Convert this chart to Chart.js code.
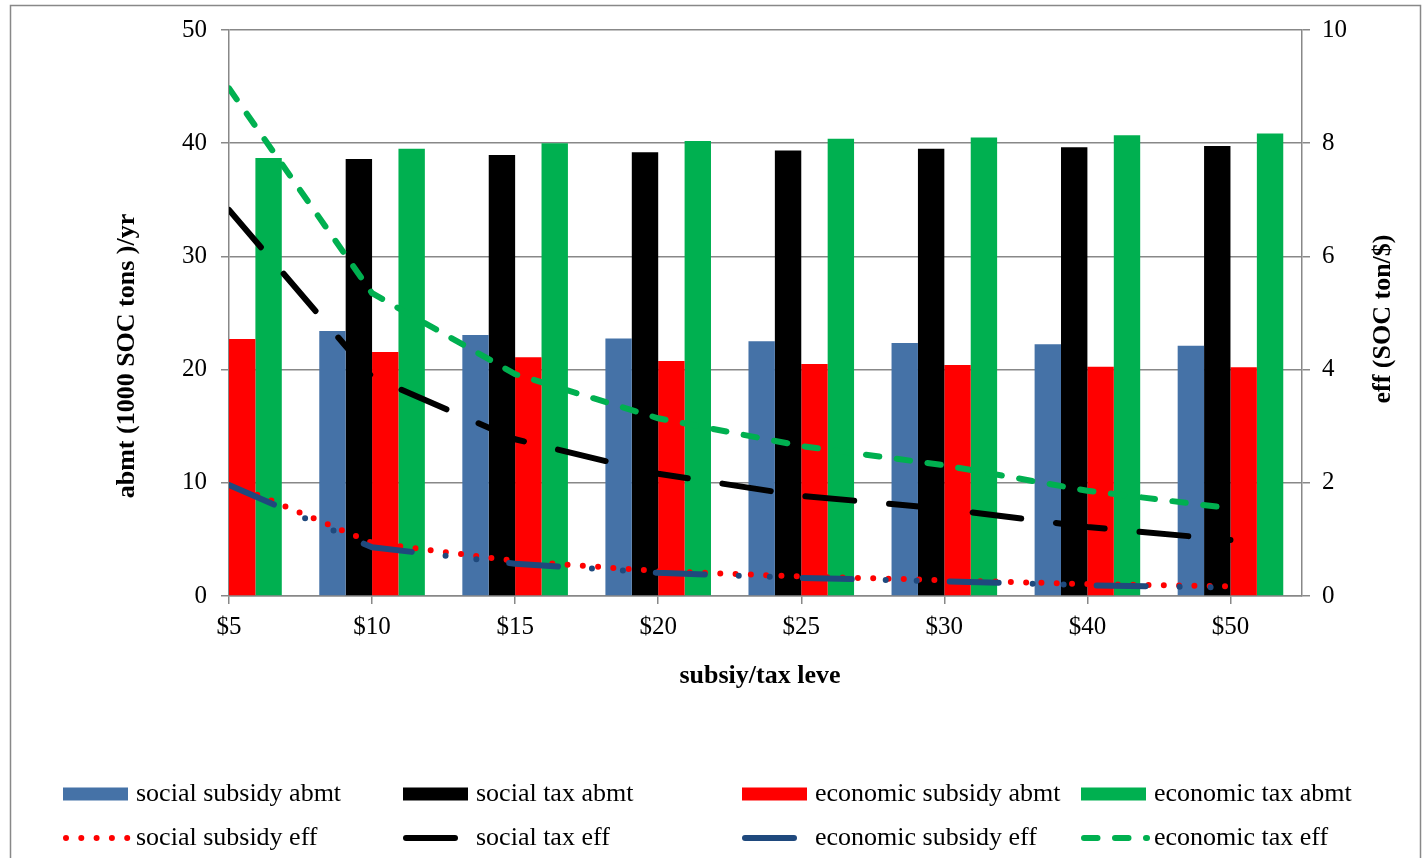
<!DOCTYPE html>
<html>
<head>
<meta charset="utf-8">
<script src="https://cdn.jsdelivr.net/npm/chart.js@4.4.1/dist/chart.umd.min.js"></script>
<style>
  html, body { margin: 0; padding: 0; background: #fff; }
  #wrap { width: 1428px; height: 858px; position: relative; }
</style>
</head>
<body>
<div id="wrap"><canvas id="c" width="1428" height="858"></canvas></div>
<script>
// Subsidy / tax levels on the horizontal axis
const levels = ['$5', '$10', '$15', '$20', '$25', '$30', '$40', '$50'];

// Abatement (1000 SOC tons per year), left axis
const socialSubsidyAbmt   = [null, 23.4, 23.05, 22.75, 22.5, 22.35, 22.25, 22.1];
const socialTaxAbmt       = [null, 38.6, 38.95, 39.2, 39.35, 39.5, 39.65, 39.75];
const economicSubsidyAbmt = [22.7, 21.55, 21.1, 20.75, 20.5, 20.4, 20.25, 20.2];
const economicTaxAbmt     = [38.7, 39.5, 40.0, 40.2, 40.4, 40.5, 40.7, 40.85];

// Efficiency (SOC ton per $), right axis
const socialSubsidyEff   = [2.0, 0.94, 0.62, 0.44, 0.345, 0.28, 0.21, 0.17];
const socialTaxEff       = [6.82, 3.87, 2.77, 2.16, 1.77, 1.54, 1.22, 0.99];
const economicSubsidyEff = [1.96, 0.86, 0.57, 0.41, 0.32, 0.26, 0.19, 0.15];
const economicTaxEff     = [8.97, 5.35, 3.92, 3.14, 2.65, 2.31, 1.86, 1.55];

const FONT = '"Liberation Serif", "Times New Roman", serif';
const GRID = '#888888';

Chart.defaults.font.family = FONT;
Chart.defaults.font.size = 25;
Chart.defaults.color = '#000';

const pts = arr => arr.map((v, i) => ({ x: i, y: v }));

const barSet = (label, data, color) => ({
  type: 'bar', label, data: pts(data),
  backgroundColor: color, borderWidth: 0,
  xAxisID: 'x', yAxisID: 'y', order: 10,
  categoryPercentage: 0.738, barPercentage: 1.0,
  clip: 0
});

const lineSet = (label, data, color, dash, order) => ({
  type: 'line', label, data: pts(data),
  borderColor: color, backgroundColor: color,
  borderWidth: 6, borderDash: dash,
  borderCapStyle: 'round', borderJoinStyle: 'round',
  pointRadius: 0, pointHoverRadius: 0, fill: false, tension: 0,
  xAxisID: 'x', yAxisID: 'y1', order
});

const datasets = [
  barSet('social subsidy abmt', socialSubsidyAbmt, '#4572A7'),
  barSet('social tax abmt', socialTaxAbmt, '#000000'),
  barSet('economic subsidy abmt', economicSubsidyAbmt, '#FF0000'),
  barSet('economic tax abmt', economicTaxAbmt, '#00B050'),
  lineSet('social subsidy eff', socialSubsidyEff, '#FF0000', [0, 15.3], 4),
  lineSet('social tax eff', socialTaxEff, '#000000', [49, 35], 3),
  lineSet('economic subsidy eff', economicSubsidyEff, '#1F497D', [49, 34, 0, 31, 0, 33], 2),
  lineSet('economic tax eff', economicTaxEff, '#00B050', [13.5, 17.5], 1)
];

// Frame, axis titles and a two-row legend laid out on a fixed grid
const decor = {
  id: 'decor',
  beforeDraw(chart) {
    const ctx = chart.ctx;
    ctx.save();
    ctx.fillStyle = '#fff';
    ctx.fillRect(0, 0, chart.width, chart.height);
    ctx.strokeStyle = GRID;
    ctx.lineWidth = 1.5;
    ctx.strokeRect(10.5, 5.5, 1410, 900);
    ctx.restore();
  },
  afterDraw(chart) {
    const ctx = chart.ctx;
    ctx.save();
    ctx.fillStyle = '#000';
    ctx.font = 'bold 26px ' + FONT;
    ctx.textAlign = 'center';
    ctx.textBaseline = 'middle';
    ctx.fillText('subsiy/tax leve', 760, 676);

    ctx.save();
    ctx.translate(127, 356);
    ctx.rotate(-Math.PI / 2);
    ctx.fillText('abmt (1000 SOC tons )/yr', 0, 0);
    ctx.restore();

    ctx.save();
    ctx.translate(1383, 319);
    ctx.rotate(-Math.PI / 2);
    ctx.fillText('eff (SOC ton/$)', 0, 0);
    ctx.restore();

    const colX = [63, 403, 742, 1081];
    const rowY = [794, 838];
    ctx.font = '26px ' + FONT;
    ctx.textAlign = 'left';
    chart.data.datasets.forEach((ds, i) => {
      const x = colX[i % 4];
      const y = rowY[Math.floor(i / 4)];
      if (ds.type === 'bar') {
        ctx.fillStyle = ds.backgroundColor;
        ctx.fillRect(x, y - 6.5, 65, 13);
      } else {
        ctx.save();
        ctx.strokeStyle = ds.borderColor;
        ctx.lineWidth = ds.borderWidth;
        ctx.lineCap = 'round';
        ctx.setLineDash(ds.borderDash);
        ctx.beginPath();
        ctx.moveTo(x + 3, y);
        ctx.lineTo(x + 66, y);
        ctx.stroke();
        ctx.restore();
      }
      ctx.fillStyle = '#000';
      ctx.fillText(ds.label, x + 73, y);
    });
    ctx.restore();
  }
};

new Chart(document.getElementById('c'), {
  type: 'bar',
  data: { datasets },
  plugins: [decor],
  options: {
    responsive: false,
    animation: false,
    devicePixelRatio: 1,
    layout: { padding: { top: 30, left: 0, right: 0, bottom: 0 } },
    plugins: { legend: { display: false }, tooltip: { enabled: false } },
    scales: {
      x: {
        type: 'linear', position: 'bottom', min: 0, max: 7.5, offset: false,
        ticks: {
          stepSize: 1, includeBounds: false, autoSkip: false, maxRotation: 0, padding: 8,
          callback: v => (Number.isInteger(v) && levels[v] !== undefined) ? levels[v] : ''
        },
        grid: { drawOnChartArea: false, drawTicks: true, tickLength: 8, color: GRID, lineWidth: 1.5, offset: false },
        border: { display: true, color: GRID, width: 1.5 },
        afterFit: s => { s.height = 262; }
      },
      y: {
        position: 'left', min: 0, max: 50,
        ticks: { stepSize: 10, padding: 14 },
        grid: { color: GRID, lineWidth: 1.5, tickLength: 8 },
        border: { display: true, color: GRID, width: 1.5 },
        afterFit: s => { s.width = 229; }
      },
      y1: {
        position: 'right', min: 0, max: 10,
        ticks: { stepSize: 2, padding: 12 },
        grid: { drawOnChartArea: false, tickLength: 8, color: GRID, lineWidth: 1.5 },
        border: { display: true, color: GRID, width: 1.5 },
        afterFit: s => { s.width = 126; }
      }
    }
  }
});
</script>
</body>
</html>
